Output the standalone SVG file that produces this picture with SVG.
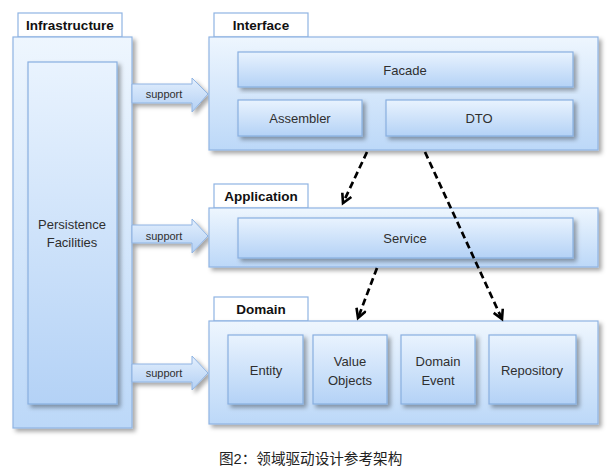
<svg xmlns="http://www.w3.org/2000/svg" width="610" height="471" viewBox="0 0 610 471">
<defs>
<linearGradient id="gLayer" x1="0" y1="0" x2="0" y2="1">
<stop offset="0" stop-color="#eef6fe"/><stop offset="1" stop-color="#bcd8f8"/>
</linearGradient>
<linearGradient id="gInner" x1="0" y1="0" x2="0" y2="1">
<stop offset="0" stop-color="#e9f3fe"/><stop offset="1" stop-color="#b4d2f6"/>
</linearGradient>
<linearGradient id="gArrow" x1="0" y1="0" x2="0" y2="1">
<stop offset="0" stop-color="#e3effd"/><stop offset="1" stop-color="#b3d0f4"/>
</linearGradient>
<filter id="sh" x="-10%" y="-10%" width="130%" height="130%">
<feDropShadow dx="3" dy="3" stdDeviation="2" flood-color="#000" flood-opacity="0.35"/>
</filter>
<marker id="vh" markerWidth="14" markerHeight="14" refX="10" refY="6" orient="auto" markerUnits="userSpaceOnUse">
<path d="M1,1 L10,6 L1,11" fill="none" stroke="#000" stroke-width="2.6"/>
</marker>
<style>
.layer{fill:url(#gLayer);stroke:#8fb4e3;stroke-width:1.2;filter:url(#sh)}
.inner{fill:url(#gInner);stroke:#88afe0;stroke-width:1.2;filter:url(#sh)}
.tab{fill:#fff;stroke:#8fb4e3;stroke-width:1.2}
.arr{fill:url(#gArrow);stroke:#8fb4e3;stroke-width:1;filter:url(#sh)}
.tt{font-family:"Liberation Sans",Arial,sans-serif;font-weight:bold;font-size:13.5px;fill:#111;text-anchor:middle}
.lb{font-family:"Liberation Sans",Arial,sans-serif;font-size:13px;fill:#2f2f2f;text-anchor:middle}
.sp{font-family:"Liberation Sans",Arial,sans-serif;font-size:11px;fill:#2f2f2f;text-anchor:middle}
.dash{fill:none;stroke:#000;stroke-width:2.7;stroke-dasharray:7,4}
.cap{font-family:"Liberation Sans","Noto Sans CJK SC",sans-serif;font-size:14.6px;fill:#222}
</style>
</defs>

<g id="infrastructure">
<rect class="tab" x="18" y="13" width="104" height="24"/>
<text class="tt" x="70" y="30">Infrastructure</text>
<rect class="layer" x="13" y="37" width="119" height="391"/>
<rect class="inner" x="28" y="62" width="89" height="342"/>
<text class="lb" x="72" y="229">Persistence</text>
<text class="lb" x="72" y="247">Facilities</text>
</g>

<g id="support-arrows">
<g id="support1">
<path class="arr" d="M132,84 H192 V78 L208,94 L192,112 V103 H132 Z"/>
<text class="sp" x="164" y="98">support</text>
</g>
<g id="support2">
<path class="arr" d="M132,225 H192 V219 L208,236 L192,253 V243 H132 Z"/>
<text class="sp" x="164" y="240">support</text>
</g>
<g id="support3">
<path class="arr" d="M132,364 H192 V356 L208,373 L192,390 V382 H132 Z"/>
<text class="sp" x="164" y="377">support</text>
</g>
</g>

<g id="interface">
<rect class="tab" x="214" y="13" width="94" height="24"/>
<text class="tt" x="261" y="30">Interface</text>
<rect class="layer" x="209" y="37" width="389" height="113"/>
<g id="facade"><rect class="inner" x="238" y="52" width="335" height="35"/><text class="lb" x="405" y="75">Facade</text></g>
<g id="assembler"><rect class="inner" x="238" y="100" width="124" height="36"/><text class="lb" x="300" y="123">Assembler</text></g>
<g id="dto"><rect class="inner" x="386" y="100" width="187" height="36"/><text class="lb" x="479" y="123">DTO</text></g>
</g>

<g id="application">
<rect class="tab" x="214" y="184" width="94" height="24"/>
<text class="tt" x="261" y="201">Application</text>
<rect class="layer" x="209" y="208" width="389" height="59"/>
<g id="service"><rect class="inner" x="238" y="218" width="335" height="40"/><text class="lb" x="405" y="243">Service</text></g>
</g>

<g id="domain">
<rect class="tab" x="214" y="297" width="94" height="24"/>
<text class="tt" x="261" y="314">Domain</text>
<rect class="layer" x="209" y="321" width="389" height="103"/>
<g id="entity"><rect class="inner" x="228" y="335" width="75" height="69"/><text class="lb" x="266" y="375">Entity</text></g>
<g id="value-objects"><rect class="inner" x="313" y="335" width="74" height="69"/><text class="lb" x="350" y="366">Value</text><text class="lb" x="350" y="385">Objects</text></g>
<g id="domain-event"><rect class="inner" x="401" y="335" width="74" height="69"/><text class="lb" x="438" y="366">Domain</text><text class="lb" x="438" y="385">Event</text></g>
<g id="repository"><rect class="inner" x="489" y="335" width="87" height="69"/><text class="lb" x="532" y="375">Repository</text></g>
</g>

<g id="connectors">
<path class="dash" d="M367,152 L343,203" marker-end="url(#vh)"/>
<path class="dash" d="M425,152 L502,319" marker-end="url(#vh)"/>
<path class="dash" d="M377,268 L358,318" marker-end="url(#vh)"/>
</g>

<text class="cap" x="219" y="464">图2：领域驱动设计参考架构</text>
</svg>
